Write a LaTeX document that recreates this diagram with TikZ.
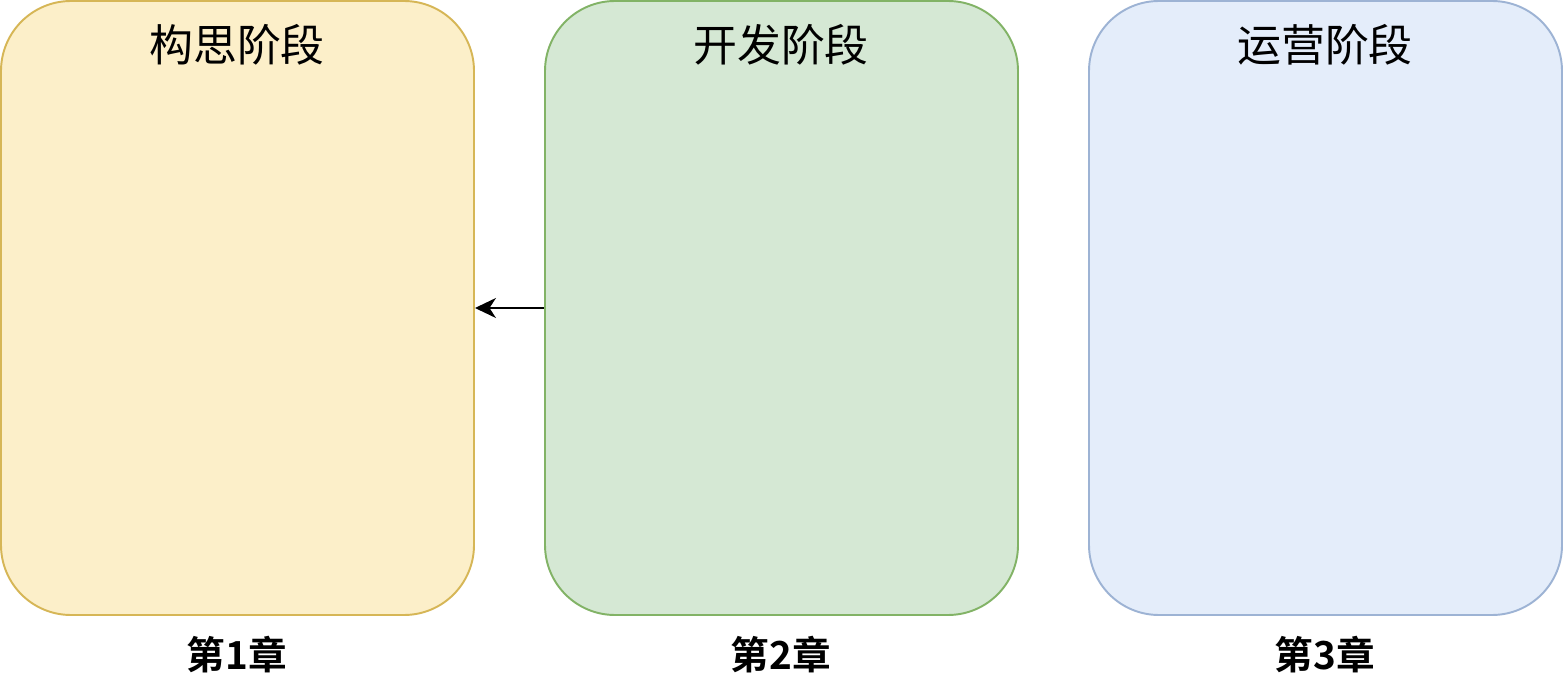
\documentclass[tikz,border=0pt]{standalone}
\usepackage{fontspec}
\newfontfamily\cjk{Noto Sans CJK SC}
\newfontfamily\cjkbold{Noto Sans CJK SC Bold}
\usetikzlibrary{arrows.meta}
\definecolor{ideafill}{HTML}{FCEFC9}
\definecolor{idealine}{HTML}{D6B656}
\definecolor{devfill}{HTML}{D5E8D4}
\definecolor{devline}{HTML}{82B366}
\definecolor{opsfill}{HTML}{E4EDFA}
\definecolor{opsline}{HTML}{9DB3D4}
\tikzset{
  phase/.style={rectangle, rounded corners=1.4cm, minimum width=9.46cm, minimum height=12.28cm, line width=1.1pt, inner sep=0pt},
  phasetitle/.style={font=\cjk\fontsize{25}{30}\selectfont},
  chapter/.style={font=\cjkbold\fontsize{22}{26}\selectfont},
  link/.style={line width=1pt, -{Stealth[length=4.2mm, width=4mm, inset=1.3mm]}},
}
\begin{document}
\begin{tikzpicture}
\useasboundingbox (0,0) rectangle (31.26,13.76);
\fill[white] (0,0) rectangle (31.26,13.76);
\node[phase, fill=ideafill, draw=idealine] (idea) at (4.75,7.60) {};
\node[phase, fill=devfill, draw=devline] (dev) at (15.63,7.60) {};
\node[phase, fill=opsfill, draw=opsline] (ops) at (26.51,7.60) {};
\node[phasetitle] (ideatitle) at (4.74,12.86) {构思阶段};
\node[phasetitle] (devtitle) at (15.62,12.86) {开发阶段};
\node[phasetitle] (opstitle) at (26.50,12.86) {运营阶段};
\node[chapter] (ch1) at (4.74,0.66) {第1章};
\node[chapter] (ch2) at (15.62,0.66) {第2章};
\node[chapter] (ch3) at (26.50,0.66) {第3章};
\draw[link] (dev.west) -- (idea.east);
\end{tikzpicture}
\end{document}
